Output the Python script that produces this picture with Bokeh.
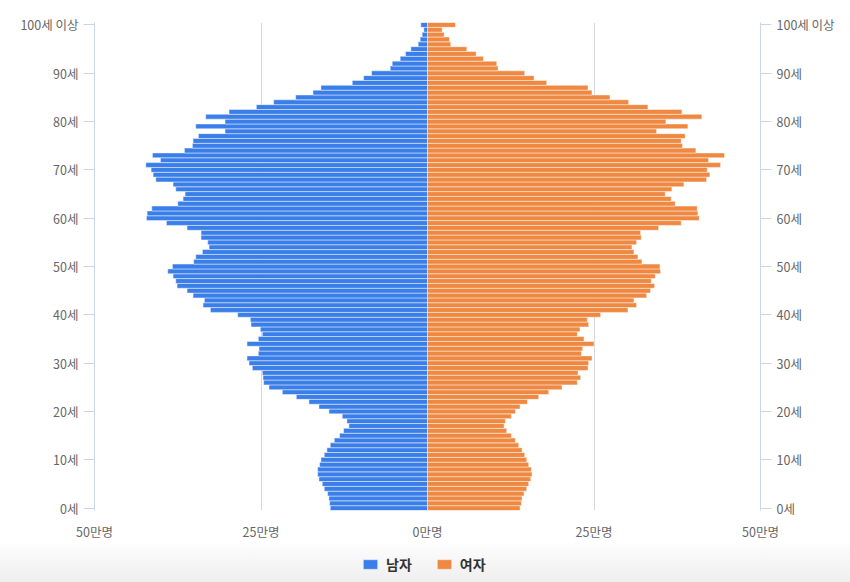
from bokeh.plotting import figure
from bokeh.layouts import column
from bokeh.models import LinearAxis, FixedTicker, Legend, LegendItem
from bokeh.embed import file_html
from bokeh.resources import INLINE

ages = list(range(0, 101))
# values in 만명, index = age (0..100, 100 = "100세 이상")
male = [14.6, 14.7, 14.8, 15.0, 15.5, 15.8, 16.3, 16.5, 16.5, 16.2,
        16.0, 15.5, 15.1, 14.6, 14.0, 13.2, 12.6, 11.8, 12.1, 12.8,
        14.8, 16.3, 17.8, 19.7, 21.8, 23.8, 24.6, 24.7, 24.8, 26.3,
        26.8, 27.1, 25.4, 25.3, 27.1, 25.4, 24.8, 25.1, 26.5, 26.6,
        28.5, 32.6, 33.7, 33.5, 35.2, 36.1, 37.6, 37.8, 38.2, 39.0,
        38.3, 35.1, 34.8, 33.8, 32.8, 33.0, 34.0, 34.0, 36.1, 39.2,
        42.2, 42.1, 41.4, 37.5, 36.7, 36.4, 37.8, 38.2, 40.8, 41.2,
        41.5, 42.3, 40.1, 41.3, 36.5, 35.3, 35.2, 34.4, 30.4, 34.8,
        30.4, 33.3, 29.8, 25.7, 23.1, 19.8, 17.2, 16.0, 11.3, 9.6,
        8.4, 5.6, 5.3, 4.1, 3.3, 2.5, 1.4, 1.1, 0.8, 0.55, 1.0]
female = [13.9, 14.1, 14.2, 14.5, 14.9, 15.2, 15.5, 15.7, 15.6, 15.2,
          14.9, 14.6, 14.2, 13.7, 13.2, 12.6, 11.9, 11.5, 11.7, 12.6,
          13.2, 13.9, 15.0, 16.7, 18.2, 20.2, 22.5, 23.0, 22.6, 24.1,
          24.2, 24.7, 23.1, 23.3, 25.0, 23.5, 22.5, 22.9, 24.2, 24.0,
          26.0, 30.1, 31.4, 31.0, 32.9, 33.5, 34.1, 33.6, 34.2, 35.0,
          34.9, 32.2, 31.6, 31.0, 30.7, 31.4, 32.1, 32.0, 34.7, 38.1,
          40.8, 40.6, 40.5, 37.2, 36.6, 35.7, 36.7, 38.5, 41.9, 42.4,
          42.0, 44.0, 42.2, 44.6, 40.3, 38.3, 38.1, 38.7, 34.4, 39.1,
          35.8, 41.2, 38.2, 33.1, 30.2, 27.4, 24.7, 24.1, 17.9, 16.0,
          14.6, 10.6, 10.4, 8.4, 7.3, 5.9, 3.5, 3.3, 2.5, 2.2, 4.2]

y_ticks = [0, 10, 20, 30, 40, 50, 60, 70, 80, 90, 100]
y_labels = ["0세", "10세", "20세", "30세", "40세", "50세", "60세", "70세", "80세", "90세", "100세 이상"]
x_ticks = [-50, -25, 0, 25, 50]
x_labels = ["50만명", "25만명", "0만명", "25만명", "50만명"]
series_names = ["남자", "여자"]

FONT = "Noto Sans CJK KR"
BLUE = "#3a7ee9"
ORANGE = "#ef8942"

p = figure(output_backend="svg", toolbar_location=None,
           x_range=(-50, 50), y_range=(-0.5, 100.5),
           frame_width=666, frame_height=488,
           min_border_left=94, min_border_right=90, min_border_top=22, min_border_bottom=32)
p.outline_line_color = None
p.border_fill_color = "white"
p.background_fill_color = "white"

neg_male = [-v for v in male]
p.hbar(y=ages, left=neg_male, right=0, height=1.0, fill_color=BLUE,
       line_color="white", line_alpha=0.45, line_width=1)
p.hbar(y=ages, left=0, right=female, height=1.0, fill_color=ORANGE,
       line_color="white", line_alpha=0.45, line_width=1)

# grid
p.ygrid.visible = False
p.xgrid.ticker = FixedTicker(ticks=[-25, 0, 25])
p.xgrid.grid_line_color = "#d8d8d8"
p.xgrid.grid_line_width = 1
p.xgrid.level = "underlay"

# x axis
xa = p.xaxis[0]
xa.ticker = FixedTicker(ticks=x_ticks)
xa.major_label_overrides = {t: l for t, l in zip(x_ticks, x_labels)}
xa.axis_line_color = None
xa.major_tick_line_color = None
xa.major_tick_out = 0
xa.major_tick_in = 0
xa.minor_tick_line_color = None
xa.major_label_standoff = 11
xa.major_label_text_font = FONT
xa.major_label_text_font_size = "12.5px"
xa.major_label_text_color = "#666666"

def style_y(ax):
    ax.ticker = FixedTicker(ticks=y_ticks)
    ax.major_label_overrides = {t: l for t, l in zip(y_ticks, y_labels)}
    ax.axis_line_color = "#ccd6eb"
    ax.major_tick_line_color = "#ccd6eb"
    ax.major_tick_out = 11
    ax.major_tick_in = 0
    ax.minor_tick_line_color = None
    ax.major_label_standoff = 5
    ax.major_label_text_font = FONT
    ax.major_label_text_font_size = "12.5px"
    ax.major_label_text_color = "#666666"

style_y(p.yaxis[0])
ra = LinearAxis()
style_y(ra)
p.add_layout(ra, "right")

# legend strip (separate figure so the legend is not clipped)
lg = figure(output_backend="svg", toolbar_location=None, width=850, height=40,
            x_range=(0, 1), y_range=(0, 1), min_border=0,
            x_axis_location=None, y_axis_location=None)
lg.grid.visible = False
lg.outline_line_color = None
lg.background_fill_alpha = 0
lg.border_fill_alpha = 0
lg.styles = {"background": "linear-gradient(to bottom, #ffffff 0px, #fbfbfb 6px, #eeeeee 40px)"}
# swatch glyphs kept outside the visible range; only their legend swatches show
d1 = lg.hbar(y=[-10], left=[-10], right=[-9], height=1, fill_color=BLUE,
             line_color="white", line_alpha=0.45)
d2 = lg.hbar(y=[-10], left=[-10], right=[-9], height=1, fill_color=ORANGE,
             line_color="white", line_alpha=0.45)
legend = Legend(items=[LegendItem(label=series_names[0], renderers=[d1]),
                       LegendItem(label=series_names[1], renderers=[d2])],
                orientation="horizontal", location=(267, 9),
                label_text_font=FONT, label_text_font_size="14px",
                label_text_font_style="bold", label_text_color="#333333",
                label_height=17,
                glyph_width=18, glyph_height=12, spacing=23, label_standoff=7,
                border_line_color=None, background_fill_alpha=0,
                margin=0, padding=6)
lg.add_layout(legend, "center")

layout = column(p, lg, spacing=0)
open("out.html", "w").write(file_html(layout, INLINE))
